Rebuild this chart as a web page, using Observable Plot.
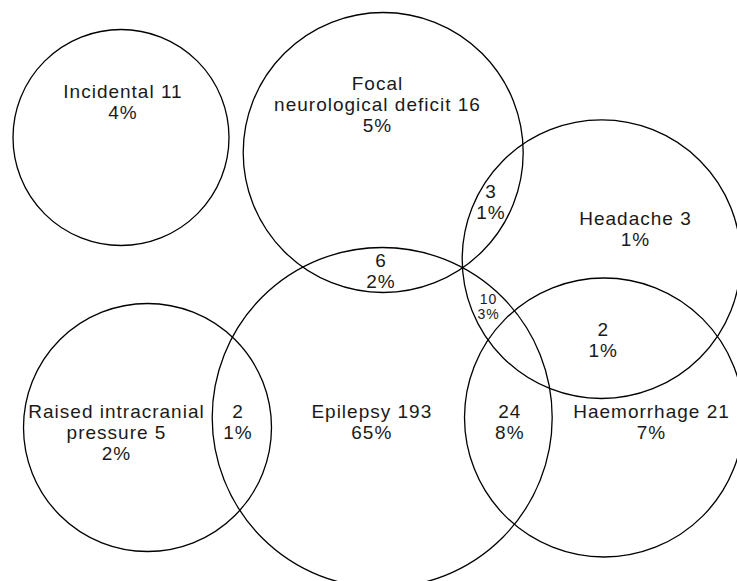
<!DOCTYPE html>
<html>
<head>
<meta charset="utf-8">
<script src="https://cdn.jsdelivr.net/npm/d3@7"></script>
<script src="https://cdn.jsdelivr.net/npm/@observablehq/plot@0.6"></script>
<style>
  html, body { margin: 0; padding: 0; background: #fff; }
</style>
</head>
<body>
<div id="chart"></div>
<script>
// Sets (circles) of the diagram, in diagram units
const setNames = ["Incidental", "Focal neurological deficit", "Headache", "Epilepsy", "Raised intracranial pressure", "Haemorrhage"];
const setCx = [120.5, 382.7, 601, 381.7, 147, 603.5];
const setCy = [137, 152, 258.7, 417, 427, 417];
const setR  = [108, 140, 139.3, 170, 124, 139.5];

// Region labels
const regionNames = ["Incidental", "Focal\nneurological deficit", "", "", "Headache", "", "", "Raised intracranial\npressure", "", "Epilepsy", "", "Haemorrhage"];
const regionCounts = [11, 16, 3, 6, 3, 10, 2, 5, 2, 193, 24, 21];
const regionPercents = [4, 5, 1, 2, 1, 3, 1, 2, 1, 65, 8, 7];
const regionX = [122.5, 377, 490.5, 380.5, 635, 488, 602.7, 116, 237.5, 371.3, 509.3, 651];
const regionY = [118.7, 131, 218, 287.3, 245, 318, 356.7, 459.3, 438.3, 438.3, 438.3, 438.3];
const regionSmall = [false, false, false, false, false, true, false, false, false, false, false, false];

const circles = setNames.map((name, i) => ({name, x: setCx[i], y: setCy[i], r: setR[i]}));
const regions = regionNames.map((name, i) => ({
  text: (name ? name + " " : "") + regionCounts[i] + "\n" + regionPercents[i] + "%",
  x: regionX[i], y: regionY[i], small: regionSmall[i]
}));

const W = 737, H = 581;
const font = "'Liberation Sans', Arial, sans-serif";

const chart = Plot.plot({
  width: W,
  height: H,
  margin: 0,
  x: {domain: [0, W], range: [0, W], axis: null},
  y: {domain: [0, H], range: [0, H], axis: null},
  r: {type: "linear", domain: [0, 200], range: [0, 200]},
  style: {fontFamily: font, letterSpacing: "1px", background: "#fff", overflow: "hidden"},
  marks: [
    Plot.dot(circles, {x: "x", y: "y", r: "r", fill: "none", stroke: "#000", strokeWidth: 1.3}),
    Plot.text(regions.filter(d => !d.small), {
      x: "x", y: "y", text: "text", lineAnchor: "bottom", lineHeight: 1.09,
      fontSize: 19, fill: "#1a1a1a", textAnchor: "middle"
    }),
    Plot.text(regions.filter(d => d.small), {
      x: "x", y: "y", text: "text", lineAnchor: "bottom", lineHeight: 1.07,
      fontSize: 14, fill: "#1a1a1a", textAnchor: "middle"
    })
  ]
});
document.getElementById("chart").appendChild(chart);
</script>
</body>
</html>
